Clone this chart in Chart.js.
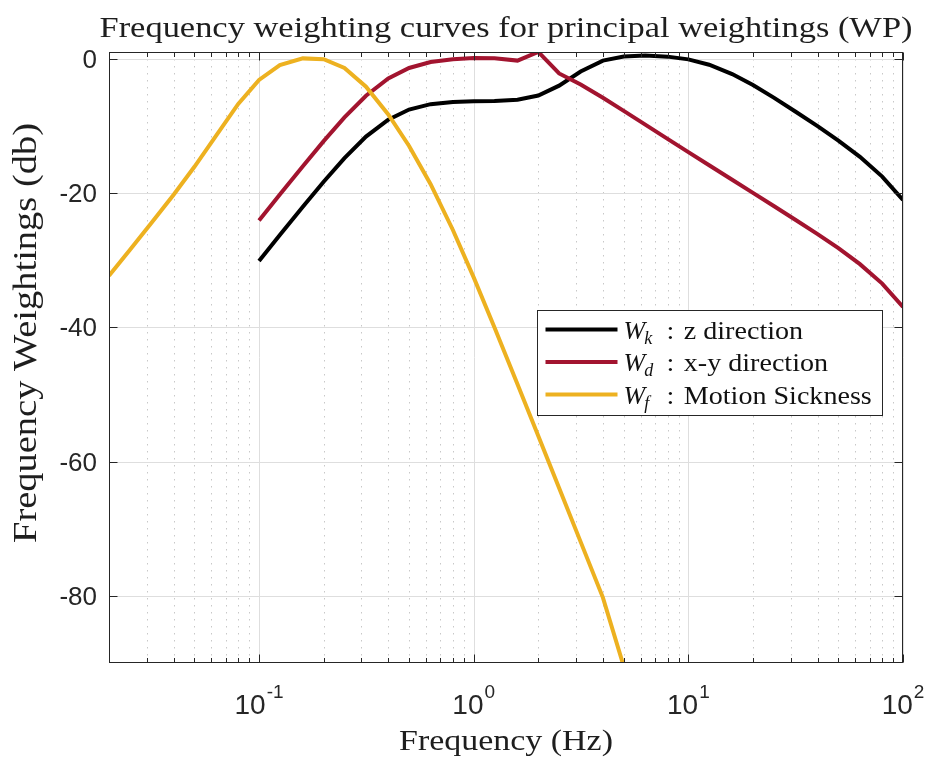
<!DOCTYPE html>
<html>
<head>
<meta charset="utf-8">
<title>Frequency weighting curves</title>
<script src="https://cdn.jsdelivr.net/npm/chart.js@4.4.0/dist/chart.umd.min.js"></script>
<style>
  html, body { margin: 0; padding: 0; background: #fff; }
  #wrap { width: 928px; height: 758px; }
</style>
</head>
<body>
<div id="wrap"><canvas id="weightChart" width="928" height="758"></canvas></div>
<script>
// one-third octave band centre frequencies (Hz)
const freqWf = [0.02, 0.025, 0.0315, 0.04, 0.05, 0.063, 0.08, 0.1, 0.125, 0.16, 0.2, 0.25,
  0.315, 0.4, 0.5, 0.63, 0.8, 1, 1.25, 1.6, 2, 2.5, 3.15, 4, 5];
const freqWkWd = [0.1, 0.125, 0.16, 0.2, 0.25, 0.315, 0.4, 0.5, 0.63, 0.8, 1, 1.25, 1.6, 2,
  2.5, 3.15, 4, 5, 6.3, 8, 10, 12.5, 16, 20, 25, 31.5, 40, 50, 63, 80, 100];

// weightings in dB
const wk = [-30.11, -26.26, -22.05, -18.33, -14.81, -11.60, -9.07, -7.57, -6.77, -6.43, -6.33,
  -6.29, -6.12, -5.49, -4.01, -1.90, -0.29, 0.33, 0.46, 0.31, -0.10, -0.89, -2.28, -3.93,
  -5.80, -7.86, -10.05, -12.19, -14.61, -17.56, -21.04];
const wd = [-24.09, -20.24, -16.01, -12.28, -8.75, -5.52, -2.94, -1.38, -0.50, -0.07, 0.10,
  0.07, -0.28, 1.01, -2.20, -3.85, -5.82, -7.77, -9.81, -11.93, -13.91, -15.87, -18.03,
  -19.98, -21.93, -23.98, -26.12, -28.22, -30.60, -33.49, -36.97];
const wf = [-32.33, -28.48, -24.47, -20.25, -16.10, -11.49, -6.73, -3.16, -0.96, 0.05, -0.07,
  -1.37, -4.17, -8.31, -13.00, -18.69, -25.51, -32.57, -40.02, -48.47, -56.19, -63.93,
  -71.96, -80.26, -90.5];

const yTicks = [0, -20, -40, -60, -80];
const xDecades = [-1, 0, 1, 2];
const minorSteps = [2, 3, 4, 5, 6, 7, 8, 9];

const X_MIN = 0.02, X_MAX = 100;
const AXIS_COLOR = '#262626';

const toPoints = (xs, ys) => xs.map((f, i) => ({ x: f, y: ys[i] }));

// minor positions of the log axis (2..9 in each decade)
const minorX = [];
for (let d = -2; d <= 1; d++) {
  minorSteps.forEach(m => {
    const v = m * Math.pow(10, d);
    if (v > X_MIN * 1.001 && v < X_MAX) minorX.push(v);
  });
}

// stretched serif text, centred on (cx, base)
function fitText(ctx, text, cx, base, size, width, rotate) {
  ctx.save();
  ctx.translate(cx, base);
  if (rotate) ctx.rotate(-Math.PI / 2);
  ctx.font = size + 'px "Liberation Serif"';
  const w = ctx.measureText(text).width;
  ctx.scale(width / w, 1);
  ctx.textAlign = 'center';
  ctx.textBaseline = 'alphabetic';
  ctx.fillText(text, 0, 0);
  ctx.restore();
}

const legendRows = [
  { sub: 'k', text: 'z direction', color: '#000000' },
  { sub: 'd', text: 'x-y direction', color: '#A2142F' },
  { sub: 'f', text: 'Motion Sickness', color: '#EDB120' }
];

const axesFrame = {
  id: 'axesFrame',
  beforeDatasetsDraw(chart) {
    const { ctx, chartArea: a, scales: { x, y } } = chart;
    ctx.save();
    ctx.lineWidth = 1;

    // dotted minor grid
    ctx.strokeStyle = '#c8c8c8';
    ctx.setLineDash([1.5, 5.5]);
    minorX.forEach(v => {
      const px = Math.round(x.getPixelForValue(v)) + 0.5;
      ctx.beginPath(); ctx.moveTo(px, a.top); ctx.lineTo(px, a.bottom); ctx.stroke();
    });
    ctx.setLineDash([]);

    // major grid
    ctx.strokeStyle = '#dedede';
    xDecades.forEach(e => {
      const px = Math.round(x.getPixelForValue(Math.pow(10, e))) + 0.5;
      ctx.beginPath(); ctx.moveTo(px, a.top); ctx.lineTo(px, a.bottom); ctx.stroke();
    });
    yTicks.forEach(v => {
      const py = Math.round(y.getPixelForValue(v)) + 0.5;
      ctx.beginPath(); ctx.moveTo(a.left, py); ctx.lineTo(a.right, py); ctx.stroke();
    });
    ctx.restore();
  },
  afterDatasetsDraw(chart) {
    const { ctx, chartArea: a, scales: { x, y } } = chart;
    ctx.save();
    ctx.strokeStyle = AXIS_COLOR;
    ctx.lineWidth = 1;
    const L = Math.round(a.left) + 0.5, R = Math.round(a.right) - 0.5;
    const T = Math.round(a.top) + 0.5, B = Math.round(a.bottom) - 0.5;
    ctx.strokeRect(L, T, R - L, B - T);

    const tickX = (v, len) => {
      const px = Math.round(x.getPixelForValue(v)) + 0.5;
      ctx.beginPath();
      ctx.moveTo(px, B); ctx.lineTo(px, B - len);
      ctx.moveTo(px, T); ctx.lineTo(px, T + len);
      ctx.stroke();
    };
    minorX.forEach(v => tickX(v, 4.5));
    xDecades.forEach(e => tickX(Math.pow(10, e), 8));
    yTicks.forEach(v => {
      const py = Math.round(y.getPixelForValue(v)) + 0.5;
      ctx.beginPath();
      ctx.moveTo(L, py); ctx.lineTo(L + 8, py);
      ctx.moveTo(R, py); ctx.lineTo(R - 8, py);
      ctx.stroke();
    });
    ctx.restore();
  },
  afterDraw(chart) {
    const { ctx, chartArea: a, scales: { x } } = chart;
    ctx.save();

    // decade labels 10^n
    ctx.fillStyle = AXIS_COLOR;
    ctx.textBaseline = 'alphabetic';
    ctx.textAlign = 'left';
    xDecades.forEach(e => {
      const px = x.getPixelForValue(Math.pow(10, e));
      const base = '10', sup = String(e);
      ctx.font = '28px "Liberation Sans"';
      const wb = ctx.measureText(base).width;
      ctx.font = '19px "Liberation Sans"';
      const ws = ctx.measureText(sup).width;
      const left = px - (wb + ws + 1) / 2;
      ctx.font = '28px "Liberation Sans"';
      ctx.fillText(base, left, a.bottom + 51);
      ctx.font = '19px "Liberation Sans"';
      ctx.fillText(sup, left + wb + 1, a.bottom + 35);
    });

    // titles
    ctx.fillStyle = '#1e1e1e';
    const midX = (a.left + a.right) / 2;
    fitText(ctx, 'Frequency weighting curves for principal weightings (WP)', midX, 37, 30, 813, false);
    fitText(ctx, 'Frequency (Hz)', midX, 750, 29, 214, false);
    fitText(ctx, 'Frequency Weightings (db)', 36, 333, 33, 420, true);

    // legend box
    const bw = 345, bh = 105;
    const bx = Math.round(a.right - 21 - bw) + 0.5, by = Math.round(a.top + 258) + 0.5;
    ctx.fillStyle = '#ffffff';
    ctx.fillRect(bx, by, bw, bh);
    ctx.strokeStyle = AXIS_COLOR;
    ctx.lineWidth = 1;
    ctx.strokeRect(bx, by, bw, bh);

    legendRows.forEach((row, i) => {
      const ry = by + 19 + i * 32.5;
      ctx.strokeStyle = row.color;
      ctx.lineWidth = 4;
      ctx.beginPath(); ctx.moveTo(bx + 8, ry); ctx.lineTo(bx + 80, ry); ctx.stroke();

      ctx.fillStyle = '#111111';
      ctx.textAlign = 'left';
      ctx.font = 'italic 26px "Liberation Serif"';
      ctx.fillText('W', bx + 86, ry + 9);
      const ww = ctx.measureText('W').width;
      ctx.font = 'italic 18px "Liberation Serif"';
      ctx.fillText(row.sub, bx + 86 + ww - 1, ry + 14);

      ctx.save();
      ctx.translate(bx + 129, ry + 9);
      ctx.scale(1.08, 1);
      ctx.font = '26px "Liberation Serif"';
      ctx.fillText(':', 0, 0);
      ctx.fillText(row.text, 16, 0);
      ctx.restore();
    });
    ctx.restore();
  }
};

const lineStyle = { borderWidth: 4, pointRadius: 0, pointHoverRadius: 0, tension: 0, fill: false, clip: 0 };

new Chart(document.getElementById('weightChart').getContext('2d'), {
  type: 'line',
  data: {
    datasets: [
      { label: 'W_k : z direction', data: toPoints(freqWkWd, wk), borderColor: '#000000', order: 3, ...lineStyle },
      { label: 'W_d : x-y direction', data: toPoints(freqWkWd, wd), borderColor: '#A2142F', order: 2, ...lineStyle },
      { label: 'W_f : Motion Sickness', data: toPoints(freqWf, wf), borderColor: '#EDB120', order: 1, ...lineStyle }
    ]
  },
  options: {
    responsive: false,
    animation: false,
    devicePixelRatio: 1,
    layout: { padding: { left: 0, right: 25, top: 52, bottom: 95 } },
    plugins: {
      legend: { display: false },
      title: { display: false },
      tooltip: { enabled: false }
    },
    scales: {
      x: {
        type: 'logarithmic',
        min: X_MIN,
        max: X_MAX,
        display: false
      },
      y: {
        type: 'linear',
        min: -90,
        max: 1,
        afterBuildTicks: scale => { scale.ticks = yTicks.map(v => ({ value: v })); },
        afterFit: scale => { scale.width = 109; },
        grid: { display: false, drawTicks: false },
        border: { display: false },
        ticks: {
          font: { family: 'Liberation Sans', size: 26 },
          color: AXIS_COLOR,
          padding: 12,
          labelOffset: 2
        }
      }
    }
  },
  plugins: [axesFrame]
});
</script>
</body>
</html>
